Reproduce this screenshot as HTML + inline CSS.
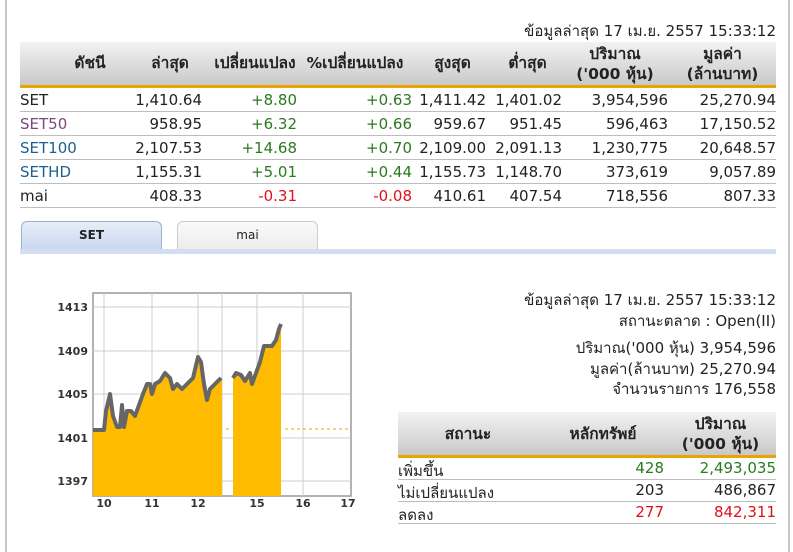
<!DOCTYPE html>
<html><head><meta charset="utf-8"><style>
body{margin:0;width:793px;height:552px;background:#fff;font-family:"DejaVu Sans","Liberation Sans",sans-serif;font-size:14px;color:#222;position:relative;overflow:hidden}
.vl{position:absolute;top:0;width:2px;height:552px;background:#c8c8c8}
.abs{position:absolute}
.hdr{position:absolute;background:linear-gradient(#f2f2f2,#c9c9c9);border-bottom:3px solid #e8a400}
.hdr div{position:absolute;font-weight:bold;text-align:center;line-height:20px;color:#222;font-size:15.5px;white-space:nowrap}
.row{position:absolute;height:23px;border-bottom:1px solid #bdbdbd}
.row span{position:absolute;top:3px;white-space:nowrap}
.r{text-align:right}
.g{color:#2a7a1e}.red{color:#e0101a}
.th{font-size:15px}
</style></head><body>
<div class="vl" style="left:5px"></div>
<div class="vl" style="left:788px"></div>
<div class="abs th" style="right:17px;top:19px">ข้อมูลล่าสุด 17 เม.ย. 2557 15:33:12</div>
<div class="hdr" style="left:20px;top:42px;width:756px;height:43px">
<div style="left:20px;top:11px;width:100px">ดัชนี</div>
<div style="left:110px;top:11px;width:80px">ล่าสุด</div>
<div style="left:175px;top:11px;width:120px">เปลี่ยนแปลง</div>
<div style="left:270px;top:11px;width:130px">%เปลี่ยนแปลง</div>
<div style="left:395px;top:11px;width:75px">สูงสุด</div>
<div style="left:470px;top:11px;width:75px">ต่ำสุด</div>
<div style="left:545px;top:2px;width:100px">ปริมาณ<br>('000 หุ้น)</div>
<div style="left:650px;top:2px;width:105px">มูลค่า<br>(ล้านบาท)</div>
</div>
<div class="abs" style="left:21px;top:221px;width:139px;height:28px;background:linear-gradient(#e6edf8,#c9d7f0);border:1px solid #9fb0cc;border-bottom:none;border-radius:6px 6px 0 0;text-align:center;font-weight:bold;font-size:12px;line-height:26px">SET</div>
<div class="abs" style="left:177px;top:221px;width:139px;height:28px;background:linear-gradient(#fafafa,#ececec);border:1px solid #ccc;border-bottom:none;border-radius:6px 6px 0 0;text-align:center;font-size:12px;line-height:26px">mai</div>
<div class="abs" style="left:20px;top:249px;width:756px;height:5px;background:#d3def3"></div>

<svg class="abs" style="left:40px;top:280px" width="330" height="240" viewBox="40 280 330 240">
<rect x="93" y="293" width="258" height="203" fill="#fff" stroke="#999" stroke-width="1.5"/>
<g stroke="#ccc" stroke-width="1">
<line x1="104" y1="293" x2="104" y2="496"/><line x1="152" y1="293" x2="152" y2="496"/><line x1="198" y1="293" x2="198" y2="496"/><line x1="222" y1="293" x2="222" y2="496"/><line x1="257" y1="293" x2="257" y2="496"/><line x1="303" y1="293" x2="303" y2="496"/>
<line x1="93" y1="307" x2="351" y2="307"/><line x1="93" y1="351" x2="351" y2="351"/><line x1="93" y1="394" x2="351" y2="394"/><line x1="93" y1="438" x2="351" y2="438"/><line x1="93" y1="481" x2="351" y2="481"/>
</g>
<polygon fill="#ffbb00" points="93,496 93,430 104,430 106,411 110,394 113,416 117,427 120,427 122,405 124,427 127,411 131,411 135,416 139,405 143,394 147,384 150,384 152,394 155,384 160,381 165,373 170,378 173,389 177,384 182,389 187,384 193,378 198,357 201,362 204,384 207,400 210,389 215,384 221,378 222,378 222,496"/>
<polygon fill="#ffbb00" points="233,496 233,378 236,373 241,375 245,381 250,373 252,384 256,373 260,362 264,346 268,346 272,346 276,340 279,329 281,324 281,496"/>
<polyline fill="none" stroke="#666" stroke-width="4" stroke-linejoin="round" points="93,430 104,430 106,411 110,394 113,416 117,427 120,427 122,405 124,427 127,411 131,411 135,416 139,405 143,394 147,384 150,384 152,394 155,384 160,381 165,373 170,378 173,389 177,384 182,389 187,384 193,378 198,357 201,362 204,384 207,400 210,389 215,384 221,378"/>
<polyline fill="none" stroke="#666" stroke-width="4" stroke-linejoin="round" points="233,378 236,373 241,375 245,381 250,373 252,384 256,373 260,362 264,346 268,346 272,346 276,340 279,329 281,324"/>
<line x1="226" y1="429" x2="232" y2="429" stroke="#f0a000" stroke-dasharray="3,3"/>
<line x1="285" y1="429" x2="350" y2="429" stroke="#f0a000" stroke-dasharray="3,3"/>
<g font-family="DejaVu Sans, sans-serif" font-size="11" font-weight="bold" fill="#333">
<text x="88" y="311" text-anchor="end">1413</text><text x="88" y="355" text-anchor="end">1409</text><text x="88" y="398" text-anchor="end">1405</text><text x="88" y="442" text-anchor="end">1401</text><text x="88" y="485" text-anchor="end">1397</text>
<text x="104" y="507" text-anchor="middle">10</text><text x="152" y="507" text-anchor="middle">11</text><text x="198" y="507" text-anchor="middle">12</text><text x="257" y="507" text-anchor="middle">15</text><text x="303" y="507" text-anchor="middle">16</text><text x="348" y="507" text-anchor="middle">17</text>
</g>
</svg>

<div class="abs r th" style="right:17px;top:290px;line-height:21px">ข้อมูลล่าสุด 17 เม.ย. 2557 15:33:12<br>สถานะตลาด : Open(II)</div>
<div class="abs r th" style="right:17px;top:338px;line-height:20.5px">ปริมาณ('000 หุ้น) 3,954,596<br>มูลค่า(ล้านบาท) 25,270.94<br>จำนวนรายการ 176,558</div>
<div class="hdr" style="left:398px;top:412px;width:378px;height:43px">
<div style="left:20px;top:12px;width:100px">สถานะ</div>
<div style="left:150px;top:12px;width:110px">หลักทรัพย์</div>
<div style="left:270px;top:2px;width:105px">ปริมาณ<br>('000 หุ้น)</div>
</div>
<div class="row th" style="left:398px;top:458px;width:378px;height:21px"><span style="left:0;top:1px">เพิ่มขึ้น</span><span class="g" style="right:112px;top:1px">428</span><span class="g" style="right:0;top:1px">2,493,035</span></div>
<div class="row th" style="left:398px;top:480px;width:378px;height:21px"><span style="left:0;top:1px">ไม่เปลี่ยนแปลง</span><span style="right:112px;top:1px">203</span><span style="right:0;top:1px">486,867</span></div>
<div class="row th" style="left:398px;top:502px;width:378px;height:21px"><span style="left:0;top:1px">ลดลง</span><span class="red" style="right:112px;top:1px">277</span><span class="red" style="right:0;top:1px">842,311</span></div>

<div class="row th" style="left:20px;top:88px;width:756px"><span style="left:0">SET</span><span style="right:574px">1,410.64</span><span class="g" style="right:479px">+8.80</span><span class="g" style="right:364px">+0.63</span><span style="right:290px">1,411.42</span><span style="right:214px">1,401.02</span><span style="right:108px">3,954,596</span><span style="right:0">25,270.94</span></div>
<div class="row th" style="left:20px;top:112px;width:756px"><span style="left:0;color:#7a4a7a">SET50</span><span style="right:574px">958.95</span><span class="g" style="right:479px">+6.32</span><span class="g" style="right:364px">+0.66</span><span style="right:290px">959.67</span><span style="right:214px">951.45</span><span style="right:108px">596,463</span><span style="right:0">17,150.52</span></div>
<div class="row th" style="left:20px;top:136px;width:756px"><span style="left:0;color:#1f5f8f">SET100</span><span style="right:574px">2,107.53</span><span class="g" style="right:479px">+14.68</span><span class="g" style="right:364px">+0.70</span><span style="right:290px">2,109.00</span><span style="right:214px">2,091.13</span><span style="right:108px">1,230,775</span><span style="right:0">20,648.57</span></div>
<div class="row th" style="left:20px;top:160px;width:756px"><span style="left:0;color:#1f5f8f">SETHD</span><span style="right:574px">1,155.31</span><span class="g" style="right:479px">+5.01</span><span class="g" style="right:364px">+0.44</span><span style="right:290px">1,155.73</span><span style="right:214px">1,148.70</span><span style="right:108px">373,619</span><span style="right:0">9,057.89</span></div>
<div class="row th" style="left:20px;top:184px;width:756px"><span style="left:0">mai</span><span style="right:574px">408.33</span><span class="red" style="right:479px">-0.31</span><span class="red" style="right:364px">-0.08</span><span style="right:290px">410.61</span><span style="right:214px">407.54</span><span style="right:108px">718,556</span><span style="right:0">807.33</span></div>
</body></html>
